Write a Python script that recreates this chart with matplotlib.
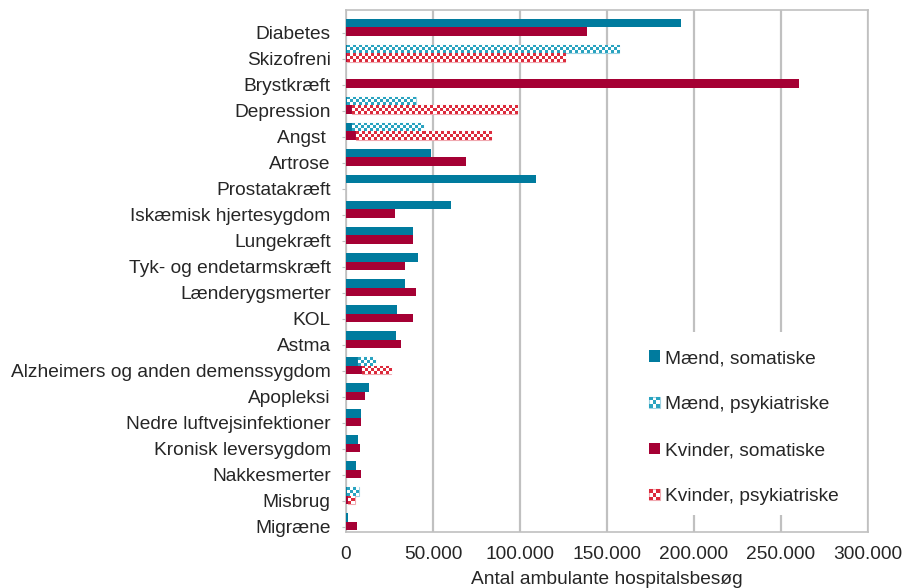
import matplotlib
matplotlib.use("Agg")
import matplotlib.pyplot as plt
import numpy as np
from matplotlib.colors import to_rgb
from matplotlib.patches import Patch, Rectangle
from matplotlib.legend_handler import HandlerBase

categories = ["Diabetes", "Skizofreni", "Brystkræft", "Depression", "Angst ",
              "Artrose", "Prostatakræft", "Iskæmisk hjertesygdom", "Lungekræft",
              "Tyk- og endetarmskræft", "Lænderygsmerter", "KOL", "Astma",
              "Alzheimers og anden demenssygdom", "Apopleksi",
              "Nedre luftvejsinfektioner", "Kronisk leversygdom", "Nakkesmerter",
              "Misbrug", "Migræne"]

maend_som = [192600, 500, 0, 800, 3300, 48600, 109000, 60500, 38300, 41100,
             34100, 29100, 28600, 6700, 13100, 8600, 6700, 5700, 800, 1300]
maend_psyk = [0, 156600, 0, 39200, 40900, 0, 0, 0, 0, 0,
              0, 0, 0, 9900, 0, 0, 0, 0, 6800, 0]
kvinder_som = [138300, 500, 260600, 3300, 5700, 69100, 0, 28000, 38300, 33700,
               40000, 38300, 31400, 9100, 10900, 8600, 8000, 8600, 1200, 6100]
kvinder_psyk = [0, 125600, 0, 95200, 77900, 0, 0, 0, 0, 0,
                0, 0, 0, 17000, 0, 0, 0, 0, 3800, 0]

teal = "#007B9E"
teal_light = "#2AA3C0"
teal_edge = "#9ED3E2"
red = "#A50034"
red_light = "#DC2B3C"
red_edge = "#F0A8B0"
grey = "#C0C0C0"
textc = "#262626"
fs = 13.8

plt.rcParams["font.family"] = ["Liberation Sans", "DejaVu Sans"]

W, H = 908, 588
fig = plt.figure(figsize=(W / 100, H / 100), dpi=100)
ax = fig.add_axes([346 / W, 1 - 532 / H, 522 / W, 522 / H])

xmax = 300000
ylo, yhi = 19.4, -0.67
y = np.arange(len(categories))
h = 0.33


def checker_fill(bars, color, sq=3.0):
    # fill each bar with a small checkerboard, clipped to the bar
    px_x = 522 / xmax
    px_y = 522 / (ylo - yhi)
    for p in bars:
        w = p.get_width()
        if w <= 0:
            continue
        x0, y0, hh = p.get_x(), p.get_y(), p.get_height()
        nx = max(1, int(round(w * px_x / sq)))
        ny = max(1, int(round(hh * px_y / sq)))
        grid = np.add.outer(np.arange(ny), np.arange(nx)) % 2
        rgba = np.ones((ny, nx, 4))
        rgba[grid == 0, :3] = to_rgb(color)
        im = ax.imshow(rgba, extent=(x0, x0 + w, y0 + hh, y0), aspect="auto",
                       interpolation="nearest", zorder=3.5)
        im.set_clip_path(p)


ax.barh(y - h / 2, maend_som, height=h, color=teal, lw=0, zorder=3)
b1 = ax.barh(y - h / 2, maend_psyk, height=h, left=maend_som, facecolor="white",
             edgecolor=teal_edge, lw=[0.8 if v > 0 else 0 for v in maend_psyk], zorder=3)
ax.barh(y + h / 2, kvinder_som, height=h, color=red, lw=0, zorder=3)
b2 = ax.barh(y + h / 2, kvinder_psyk, height=h, left=kvinder_som, facecolor="white",
             edgecolor=red_edge, lw=[0.8 if v > 0 else 0 for v in kvinder_psyk], zorder=3)
checker_fill(b1, teal_light)
checker_fill(b2, red_light)

ax.set_xlim(0, xmax)
ax.set_ylim(ylo, yhi)
ax.set_aspect("auto")
ax.set_xticks(np.arange(0, xmax + 1, 50000))
ax.set_xticklabels(["0", "50.000", "100.000", "150.000", "200.000", "250.000", "300.000"])
ax.set_yticks(y + 0.2)
ax.set_yticklabels(categories)
ax.tick_params(axis="y", length=3, color=grey, labelsize=fs, labelcolor=textc, pad=8)
ax.tick_params(axis="x", length=0, labelsize=fs, labelcolor=textc, pad=10)
ax.xaxis.grid(True, color=grey, lw=1.6, zorder=0)
ax.set_axisbelow(True)
for s in ax.spines.values():
    s.set_color(grey)
    s.set_linewidth(1.2)
ax.set_xlabel("Antal ambulante hospitalsbesøg", fontsize=fs, color=textc, labelpad=6)

# white area behind the legend hides the gridlines
ax.add_patch(Rectangle(((612 - 346) / 522, (532 - 515) / 522), (864 - 612) / 522,
                       (515 - 332) / 522, transform=ax.transAxes, facecolor="white",
                       edgecolor="none", zorder=1))


class CheckerHandler(HandlerBase):
    def __init__(self, color, edge):
        super().__init__()
        self.color = color
        self.edge = edge

    def create_artists(self, legend, orig_handle, xdescent, ydescent, width,
                       height, fontsize, trans):
        x0, y0 = -xdescent, -ydescent
        arts = [Rectangle((x0, y0), width, height, facecolor="white",
                          edgecolor=self.edge, lw=0.8, transform=trans)]
        n = 3
        for i in range(n):
            for j in range(n):
                if (i + j) % 2 == 0:
                    arts.append(Rectangle((x0 + j * width / n, y0 + i * height / n),
                                          width / n, height / n, facecolor=self.color,
                                          lw=0, transform=trans))
        return arts


hm = Patch(facecolor=teal, lw=0)
hmp = Patch(facecolor="white")
hk = Patch(facecolor=red, lw=0)
hkp = Patch(facecolor="white", label="x")
leg = ax.legend([hm, hmp, hk, hkp],
                ["Mænd, somatiske", "Mænd, psykiatriske", "Kvinder, somatiske",
                 "Kvinder, psykiatriske"],
                handler_map={hmp: CheckerHandler(teal_light, teal_edge),
                             hkp: CheckerHandler(red_light, red_edge)},
                loc="upper left", bbox_to_anchor=(649 / W, 1 - 350 / H),
                bbox_transform=fig.transFigure, frameon=False, fontsize=fs,
                labelspacing=1.52, handlelength=0.55, handleheight=0.55,
                handletextpad=0.3, borderpad=0, borderaxespad=0, labelcolor=textc)

fig.savefig("out.png", dpi=100)
